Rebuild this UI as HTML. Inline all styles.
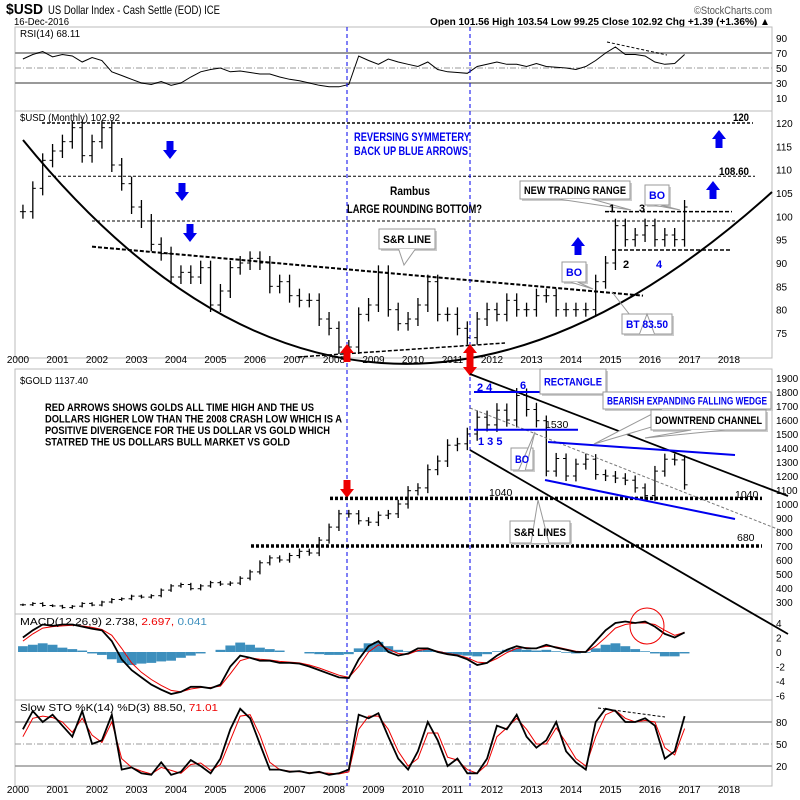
<!DOCTYPE html>
<html><head><meta charset="utf-8">
<style>
body{margin:0;background:#fff;}
svg{display:block;font-family:"Liberation Sans",sans-serif;}
</style></head>
<body>
<svg id="c" width="800" height="800" viewBox="0 0 800 800"></svg>
<script>
// ---- data (quarterly, 2000Q1..2016Q4) ----
const yearTicks=[2000,2001,2002,2003,2004,2005,2006,2007,2008,2009,2010,2011,2012,2013,2014,2015,2016,2017,2018];
const usdClose=[101,106,112,114, 116,119,113,116, 119,111,107,102, 99,94,92,87, 88,87,89,81, 84,89,90,91, 90,85,86,83, 82,82,78,76, 72,72,79,81, 88,80,77,78, 81,86,79,79, 76,74,78,80, 79,82,80,80, 83,83,80,80, 80,80,86,90, 98,95,96,98, 95,96,95,102];
const goldClose=[280,290,275,272, 260,270,290,278, 300,318,323,342, 335,345,385,415, 425,395,415,438, 428,435,470,515, 580,615,600,632, 662,650,742,835, 930,930,880,870, 920,930,1000,1095, 1115,1245,1307,1420, 1430,1500,1620,1565, 1670,1600,1775,1675, 1595,1235,1325,1200, 1285,1320,1210,1200, 1185,1170,1115,1060, 1235,1320,1315,1137];
const rsiVals=[62,68,72,65, 68,66,58,64, 60,45,40,35, 30,28,32,27, 30,38,45,48, 50,45,46,44, 42,42,38,35, 33,30,27,25, 25,28,66,60, 55,62,58,55, 52,58,48,45, 44,43,52,55, 58,55,55,52, 56,52,51,50, 48,52,60,70, 78,68,68,66, 58,55,56,68];
const macdVals=[2,3,3.8,3.6, 3.8,3.8,3.5,3.2, 3,1.5,-1,-2.5, -3.5,-4.5,-5.2,-5.8, -5.5,-4.8,-4.8,-5, -4.5,-2,-0.5,-0.8, -1.2,-1.2,-1.5,-1.5, -1.6,-2,-2.5,-3, -3.5,-3.6,-1,0.8, 1.5,0,-0.5,-0.2, 0.5,0.5,0,-0.3, -0.5,-1,-1.8,-1.5, -0.5,0.3,0.8,0.5, 0.5,1,0.6,0.3, 0,0,1.5,3, 4,4.2,4,4.2, 3.5,2.5,2,2.7];
const signalVals=[1.5,2.5,3.3,3.5, 3.6,3.7,3.6,3.4, 3.1,2.3,0.5,-1.5, -2.8,-3.8,-4.6,-5.3, -5.5,-5.1,-4.9,-4.9, -4.7,-3,-1.2,-0.8, -1,-1.1,-1.3,-1.4, -1.5,-1.8,-2.2,-2.7, -3.2,-3.5,-2,0, 1,0.4,-0.2,-0.3, 0.2,0.4,0.1,-0.2, -0.4,-0.8,-1.4,-1.5, -0.9,-0.1,0.5,0.6, 0.5,0.8,0.7,0.4, 0.1,0,0.8,2, 3.3,3.8,4,4, 3.8,3,2.3,2.7];
const histVals=[0.8,1,1.2,1, 0.6,0.4,0.2,-0.2, -0.4,-1,-1.5,-1.8, -1.6,-1.5,-1.3,-1.2, -0.8,-0.5,-0.2,0, 0.3,0.9,1.3,1, 0.6,0.4,0.2,0, 0,-0.2,-0.3,-0.4, -0.4,-0.3,0.5,1.2, 1.4,0.8,0.3,0.1, 0.2,0.4,0.1,-0.2, -0.4,-0.5,-0.6,-0.3, 0.1,0.3,0.5,0.3, 0.2,0.3,0.1,-0.1, -0.2,-0.1,0.5,1, 1.2,0.8,0.4,0.1, -0.2,-0.6,-0.6,-0.2];
const stoK=[70,95,80,90, 75,60,95,50, 55,90,15,18, 10,8,25,8, 12,28,20,10, 30,70,98,85, 50,15,15,12, 13,10,12,8, 10,15,90,85, 92,60,30,15, 40,80,55,20, 30,10,10,30, 75,70,90,60, 45,55,80,40, 25,15,80,98, 95,80,80,85, 75,30,40,88];
const stoD=[60,85,88,86, 80,66,85,62, 52,80,30,18, 13,9,18,14, 10,22,24,14, 22,55,88,90, 62,25,15,13, 12,11,11,10, 9,12,70,88, 88,70,40,20, 30,65,65,32, 28,15,10,22, 60,72,85,70, 50,50,72,52, 30,20,60,90, 96,85,80,82, 80,45,35,71];
const usdTicks=[120,115,110,105,100,95,90,85,80,75];
const goldTicks=[1900,1800,1700,1600,1500,1400,1300,1200,1100,1000,900,800,700,600,500,400,300];
const rsiTicks=[90,70,50,30,10];
const macdTicks=[4,2,0,-2,-4,-6];
const stoTicks=[80,50,20];

// ---- axes ----
const X=t=>18+(t-2000)*39.5;
const tq=i=>2000+i*0.25+0.125;
const yR=v=>53+(70-v)*0.75;
const yU=v=>123+(120-v)*4.667;
const yG=v=>378+(1900-v)*0.14;
const yM=v=>623+(4-v)*7.25;
const yS=v=>722+(80-v)*0.733;
const L=15,R=772;
const svg=document.getElementById('c');
const NS='http://www.w3.org/2000/svg';
function el(tag,attrs,parent){const e=document.createElementNS(NS,tag);for(const k in attrs)e.setAttribute(k,attrs[k]);(parent||svg).appendChild(e);return e;}
function txt(x,y,s,attrs,w){const a=Object.assign({x:x,y:y,'font-size':11,fill:'#000'},attrs||{});if(w){a.textLength=w;a.lengthAdjust='spacingAndGlyphs';}const e=el('text',a);e.textContent=s;return e;}

// header
let t;
t=txt(6,14,'$USD',{'font-size':15,'font-weight':'bold'},37);
t=txt(48,14,'US Dollar Index - Cash Settle (EOD) ICE',{'font-size':12},172);
t=txt(14,25,'16-Dec-2016',{'font-size':10},55);
t=txt(694,14,'©StockCharts.com',{'font-size':11,fill:'#555'},78);
t=txt(430,25,'Open 101.56  High 103.54  Low 99.25  Close 102.92  Chg +1.39 (+1.36%) ▲',{'font-size':10.5,'font-weight':'bold'},340);

// panels
const panels=[['rsi-panel',27,111],['usd-panel',111,358],['gold-panel',369,614],['macd-panel',614,700],['sto-panel',700,786]];
panels.forEach(p=>{const r=el('rect',{x:L,y:p[1],width:R-L,height:p[2]-p[1],fill:'none',stroke:'#bbb','stroke-width':1});});

[363,793].forEach(yy=>{yearTicks.forEach(yr=>{const e=txt(X(yr),yy,String(yr),{'font-size':10,'text-anchor':'middle'});});});
function yTicks(arr,fy,name){arr.forEach(v=>{const e=txt(776,fy(v)+4,String(v),{'font-size':10});});}
yTicks(rsiTicks,yR,'rsi-tick');yTicks(usdTicks,yU,'usd-tick');yTicks(goldTicks,yG,'gold-tick');yTicks(macdTicks,yM,'macd-tick');yTicks(stoTicks,yS,'sto-tick');

// RSI
[70,30].forEach(v=>{const e=el('line',{x1:L,x2:R,y1:yR(v),y2:yR(v),stroke:'#999','stroke-width':2});});
let e=el('line',{x1:L,x2:R,y1:yR(50),y2:yR(50),stroke:'#999','stroke-dasharray':'6,2,1,2'});
function poly(vals,fy,color,w,name){const pts=vals.map((v,i)=>X(tq(i)).toFixed(1)+','+fy(v).toFixed(1)).join(' ');const p=el('polyline',{points:pts,fill:'none',stroke:color,'stroke-width':w});return p;}
poly(rsiVals,yR,'#000',1,'rsi-line');
t=txt(20,37,'RSI(14) 68.11',{'font-size':10},60);
e=el('line',{x1:607,y1:42,x2:667,y2:55,stroke:'#000','stroke-dasharray':'3,2'});

// bars
function bars(vals,fy,pad,name){vals.forEach((v,i)=>{const o=i?vals[i-1]:v;const hi=Math.max(o,v)+pad(v),lo=Math.min(o,v)-pad(v);const x=X(tq(i));const g=el('g',{});
el('line',{x1:x,x2:x,y1:fy(hi),y2:fy(lo),stroke:'#000','stroke-width':1.3},g);
el('line',{x1:x-3,x2:x,y1:fy(o),y2:fy(o),stroke:'#000'},g);
el('line',{x1:x,x2:x+3,y1:fy(v),y2:fy(v),stroke:'#000'},g);});}
bars(usdClose,yU,v=>1.5,'usd-bar');
bars(goldClose,yG,v=>v*0.03,'gold-bar');
t=txt(20,121,'$USD (Monthly) 102.92',{'font-size':10},100);
t=txt(20,384,'$GOLD 1137.40',{'font-size':10},68);

function ln(x1,y1,x2,y2,attrs,name){const e=el('line',Object.assign({x1:x1,y1:y1,x2:x2,y2:y2,stroke:'#000'},attrs||{}));return e;}
ln(42,yU(120),753,yU(120),{'stroke-dasharray':'3,2','stroke-width':1.5},'resistance-120');
ln(48,yU(108.6),755,yU(108.6),{'stroke-dasharray':'3,2'},'resistance-108');
ln(92,yU(99),735,yU(99),{'stroke-dasharray':'3,2'},'range-line-99');
ln(605,yU(101),732,yU(101),{'stroke-dasharray':'4,2','stroke-width':1.5},'range-top');
ln(612,yU(92.8),732,yU(92.8),{'stroke-dasharray':'4,2','stroke-width':1.5},'range-bottom');
ln(92,yU(93.5),643,yU(83),{'stroke-dasharray':'4,2','stroke-width':2},'sr-trendline');
ln(298,357,505,343,{'stroke-dasharray':'4,2','stroke-width':1.5},'lower-trendline');
e=el('path',{d:'M23,140 Q365,560 772,192',fill:'none',stroke:'#000','stroke-width':2});
t=txt(741,121,'120',{'font-size':11,'font-weight':'bold','text-anchor':'middle'},16);
t=txt(719,175,'108.60',{'font-size':11,'font-weight':'bold'},30);
function arrow(x,y,dir,color,name){
const d=dir>0?`M${x-7},${y-9} L${x+7},${y-9} L${x},${y} Z M${x-3.5},${y-18} h7 v9 h-7 Z`:`M${x-7},${y+9} L${x+7},${y+9} L${x},${y} Z M${x-3.5},${y+9} h7 v9 h-7 Z`;
const p=el('path',{d:d,fill:color});}
arrow(170,159,1,'#0000ee','blue-down-arrow');arrow(182,201,1,'#0000ee','blue-down-arrow');arrow(190,242,1,'#0000ee','blue-down-arrow');
arrow(578,237,-1,'#0000ee','blue-up-arrow');arrow(713,181,-1,'#0000ee','blue-up-arrow');arrow(719,130,-1,'#0000ee','blue-up-arrow');
t=txt(354,141,'REVERSING SYMMETERY',{'font-size':12,'font-weight':'bold',fill:'#0000ee'},116);
t=txt(354,155,'BACK UP BLUE ARROWS',{'font-size':12,'font-weight':'bold',fill:'#0000ee'},114);
t=txt(390,195,'Rambus',{'font-size':12,'font-weight':'bold'},40);
t=txt(347,213,'LARGE ROUNDING BOTTOM?',{'font-size':12,'font-weight':'bold'},135);
function callout(x,y,w,h,s,color,tx,ty,name){const g=el('g',{});
el('rect',{x:x+2,y:y+2,width:w,height:h,fill:'#ccc'},g);el('rect',{x:x,y:y,width:w,height:h,fill:'#fff',stroke:'#999'},g);
el('polyline',{points:`${x+w*0.35},${y+h} ${tx},${ty} ${x+w*0.65},${y+h}`,fill:'#fff',stroke:'#999'},g);
const e=el('text',{x:x+4,y:y+h/2+4,'font-size':11,'font-weight':'bold',fill:color,textLength:w-8,lengthAdjust:'spacingAndGlyphs'},g);e.textContent=s;}
callout(379,229,56,20,'S&R LINE','#000',404,265,'sr-line-callout');
callout(520,181,110,18,'NEW TRADING RANGE','#000',631,210,'trading-range-callout');
callout(645,185,24,20,'BO','#0000ee',680,210,'bo-callout-usd');
callout(562,262,24,20,'BO','#0000ee',593,289,'bo-callout-usd2');
e=el('polyline',{points:'612,292 630,315 650,315',fill:'none',stroke:'#999'});
callout(622,314,50,20,'BT 83.50','#0000ee',647,314,'bt-callout');
[[612,212,'1','#000'],[642,212,'3','#000'],[626,268,'2','#000'],[659,268,'4','#0000ee']].forEach(a=>{const e=txt(a[0],a[1],a[2],{'font-size':11,'font-weight':'bold',fill:a[3],'text-anchor':'middle'});});

[347,470].forEach(x=>{const e=el('line',{x1:x,x2:x,y1:27,y2:786,stroke:'#0000ee','stroke-dasharray':'4,3'});});
arrow(347,344,-1,'#ee0000','red-up-arrow');arrow(470,344,-1,'#ee0000','red-up-arrow');
arrow(347,498,1,'#ee0000','red-down-arrow');arrow(470,376,1,'#ee0000','red-down-arrow');

// Gold annotations
['RED ARROWS SHOWS GOLDS ALL TIME HIGH AND THE US','DOLLARS HIGHER LOW THAN THE 2008 CRASH LOW WHICH IS A','POSITIVE DIVERGENCE FOR THE US DOLLAR VS GOLD WHICH','STATRED THE US DOLLARS BULL MARKET VS GOLD'].forEach((s,i)=>{const w=[269,297,285,245][i];const e=txt(45,411+i*11.5,s,{'font-size':11,'font-weight':'bold'},w);});
ln(330,yG(1040),762,yG(1040),{'stroke-dasharray':'3,2','stroke-width':3.5},'sr-line-1040');
ln(251,yG(700),762,yG(700),{'stroke-dasharray':'3,2','stroke-width':3.5},'sr-line-700');
ln(470,374,788,496,{'stroke-width':1.8},'channel-upper');
ln(470,450,788,634,{'stroke-width':1.8},'channel-lower');
ln(470,408,780,530,{'stroke':'#777','stroke-dasharray':'3,2'},'gray-trendline');
ln(474,yG(1800),568,yG(1800),{stroke:'#0000ee','stroke-width':2},'rectangle-top');
ln(474,yG(1530),578,yG(1530),{stroke:'#0000ee','stroke-width':2},'rectangle-bottom');
ln(548,442,735,455,{stroke:'#0000ee','stroke-width':2},'wedge-top');
ln(545,480,735,519,{stroke:'#0000ee','stroke-width':2},'wedge-bottom');
callout(540,369,66,25,'RECTANGLE','#0000ee',540,394,'rectangle-callout');
callout(603,392,168,17,'BEARISH EXPANDING FALLING WEDGE','#0000ee',594,444,'wedge-callout');
callout(651,410,115,20,'DOWNTREND CHANNEL','#000',645,438,'channel-callout');
callout(511,448,22,22,'BO','#0000ee',535,432,'bo-callout-gold');
callout(510,521,60,22,'S&R LINES','#000',538,500,'sr-lines-callout');
[[477,391,'2 4'],[520,389,'6'],[478,445,'1 3 5']].forEach(a=>{const e=txt(a[0],a[1],a[2],{'font-size':11,'font-weight':'bold',fill:'#0000ee'});});
[[545,428,'1530'],[489,496,'1040'],[735,498,'1040'],[737,541,'680']].forEach(a=>{const e=txt(a[0],a[1],a[2],{'font-size':10.5});});

// MACD
histVals.forEach((v,i)=>{const x=X(tq(i));const y0=yM(0),y1=yM(v);const r=el('rect',{x:x-4.9,y:Math.min(y0,y1),width:9.8,height:Math.abs(y1-y0),fill:'#3d8fbd'});});
poly(signalVals,yM,'#ee0000',1,'macd-signal-line');
poly(macdVals,yM,'#000',1.8,'macd-line');
e=el('ellipse',{cx:647,cy:626,rx:17,ry:18,fill:'none',stroke:'#ee0000'});
t=el('text',{x:20,y:625,'font-size':10,textLength:187,lengthAdjust:'spacingAndGlyphs'});t.innerHTML='<tspan>MACD(12,26,9) 2.738, </tspan><tspan fill="#ee0000">2.697, </tspan><tspan fill="#3d8fbd">0.041</tspan>';

// STO
[80,20].forEach(v=>ln(L,yS(v),R,yS(v),{stroke:'#999','stroke-width':1.5},'sto-level'));
ln(L,yS(50),R,yS(50),{stroke:'#999','stroke-dasharray':'6,2,1,2'},'sto-midline');
poly(stoD,yS,'#ee0000',1,'sto-d-line');
poly(stoK,yS,'#000',1.8,'sto-k-line');
ln(598,708,665,717,{'stroke-dasharray':'3,2'},'sto-divergence-line');
t=el('text',{x:20,y:711,'font-size':10,textLength:198,lengthAdjust:'spacingAndGlyphs'});t.innerHTML='<tspan>Slow STO %K(14) %D(3) 88.50, </tspan><tspan fill="#ee0000">71.01</tspan>';
</script>
</body></html>
